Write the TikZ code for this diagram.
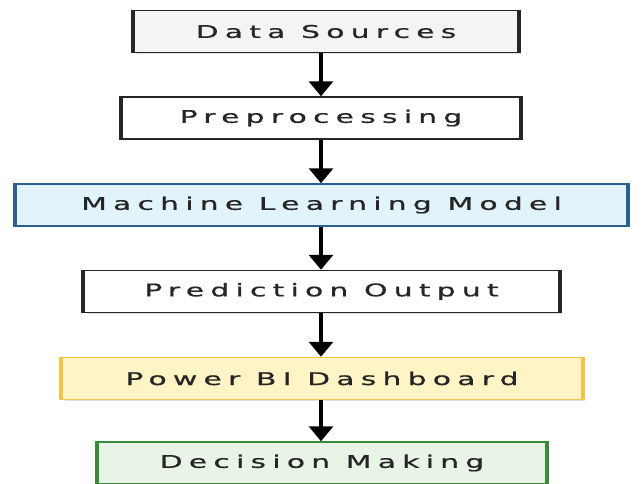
\documentclass[tikz,border=0pt]{standalone}
\usepackage{fontspec}
\newfontfamily\boxfont[LetterSpace=21,FakeBold=0.6]{DejaVu Sans}
\usetikzlibrary{arrows.meta,shadows}
\newcommand{\widetext}[1]{\scalebox{1.7}[1]{#1}}
\definecolor{txt}{HTML}{262626}
\definecolor{dsfill}{HTML}{F4F4F4}
\definecolor{mlfill}{HTML}{E1F3FB}
\definecolor{mlline}{HTML}{2B5F8E}
\definecolor{pbfill}{HTML}{FFF4C6}
\definecolor{pbline}{HTML}{F0C548}
\definecolor{dmfill}{HTML}{E8F4E6}
\definecolor{dmline}{HTML}{3A8A3A}
\tikzset{
  flowbox/.style={draw=#1, line width=1.5pt, minimum height=42pt, inner sep=0pt,
    font=\boxfont\fontsize{17.5}{20}\selectfont, text=txt,
    drop shadow={shadow xshift=3pt, shadow yshift=-1pt, opacity=0.12, fill=black}},
  sidebar/.style={line width=4pt, draw=#1},
  arr/.style={line width=3.5pt, -{Triangle[width=24pt,length=15pt]}, draw=black}
}
\begin{document}
\begin{tikzpicture}[x=1pt,y=-1pt]
\useasboundingbox[fill=white] (0,0) rectangle (642,483);
\node[flowbox=txt, fill=dsfill, minimum width=384pt] (ds) at (326,31.5) {\widetext{Data Sources}};
\node[flowbox=txt, fill=white, minimum width=398pt] (pre) at (321,118) {\widetext{Preprocessing}};
\node[flowbox=mlline, fill=mlfill, minimum width=611pt] (ml) at (321.5,205) {\widetext{Machine Learning Model}};
\node[flowbox=txt, fill=white, minimum width=475pt] (po) at (321.5,291.5) {\widetext{Prediction Output}};
\node[flowbox=pbline, fill=pbfill, minimum width=520pt] (pb) at (322,378.5) {\widetext{Power BI Dashboard}};
\node[flowbox=dmline, fill=dmfill, minimum width=448pt] (dm) at (322,463) {\widetext{Decision Making}};
\foreach \n/\c in {ds/txt,pre/txt,ml/mlline,po/txt,pb/pbline,dm/dmline}{
  \draw[sidebar=\c] (\n.north west) -- (\n.south west);
  \draw[sidebar=\c] (\n.north east) -- (\n.south east);
}
\draw[arr] (ds.south -| pre) -- (pre.north);
\draw[arr] (pre.south) -- (ml.north -| pre);
\draw[arr] (ml.south -| pre) -- (po.north -| pre);
\draw[arr] (po.south -| pre) -- (pb.north -| pre);
\draw[arr] (pb.south -| pre) -- (dm.north -| pre);
\end{tikzpicture}
\end{document}
